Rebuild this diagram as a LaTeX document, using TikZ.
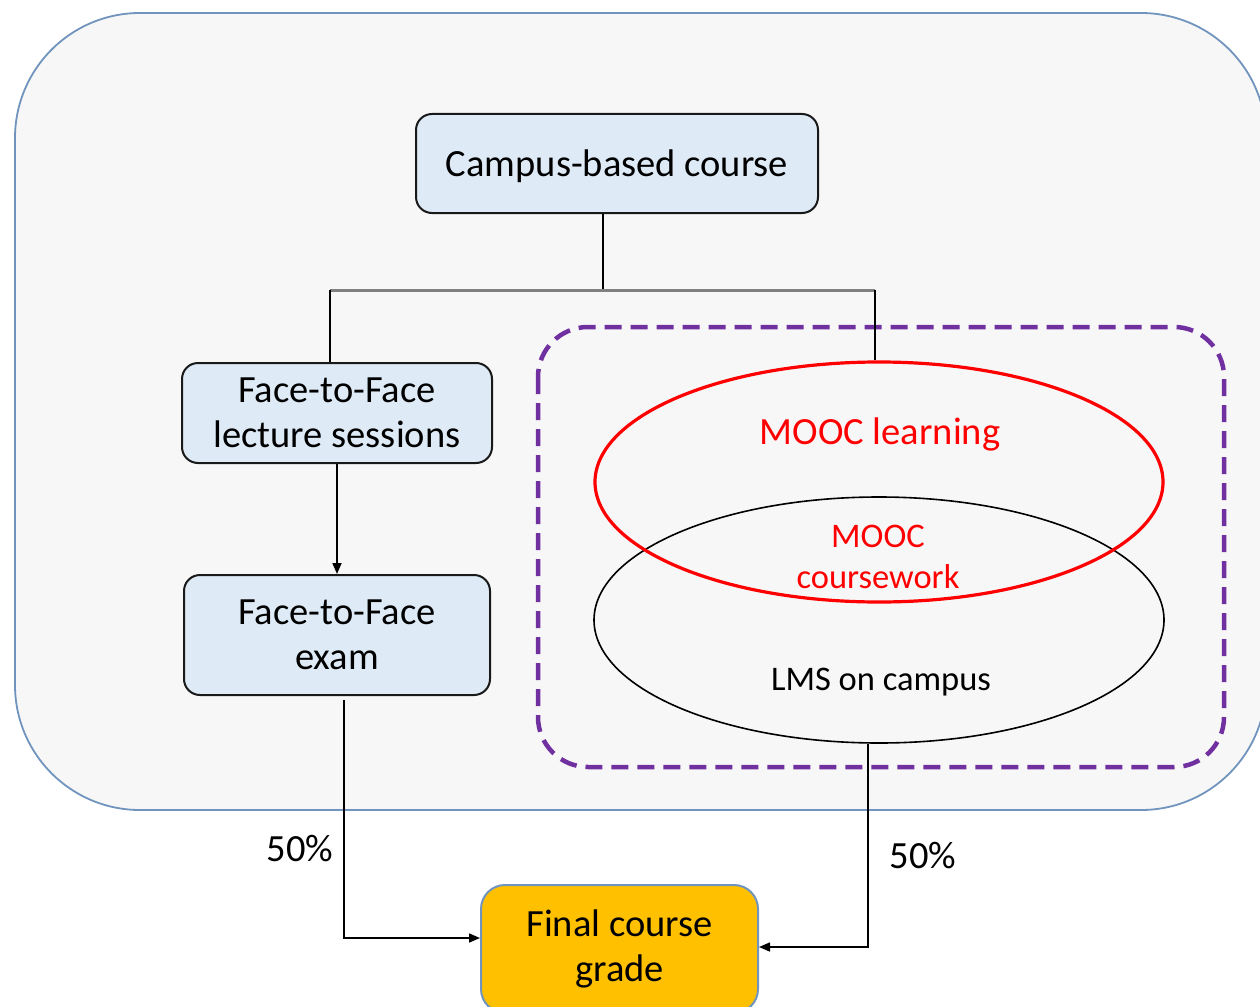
\documentclass[tikz,border=0pt]{standalone}
\usepackage{fontspec}
\setmainfont{Carlito}
\usetikzlibrary{arrows.meta,shapes.geometric}
\definecolor{bgfill}{HTML}{F7F7F7}
\definecolor{bgline}{HTML}{7094BE}
\definecolor{boxfill}{HTML}{DEEBF7}
\definecolor{mpurple}{HTML}{7030A0}
\definecolor{myellow}{HTML}{FFC000}
\definecolor{gline}{HTML}{808080}
\tikzset{
  x=1pt,y=-1pt,
  bigfont/.style={font=\fontsize{38.5}{45}\selectfont},
  smallfont/.style={font=\fontsize{34.5}{41}\selectfont},
  bluebox/.style={draw=black!90,line width=2pt,fill=boxfill,rounded corners=16pt,align=center,inner sep=0pt,bigfont},
  conn/.style={draw=black,line width=1.6pt},
  arr/.style={conn,-{Triangle[length=11pt,width=9pt]}},
}
\begin{document}
\begin{tikzpicture}
\useasboundingbox (0,0) rectangle (1260,1006);
% background panel
\draw[bgline,fill=bgfill,line width=1.8pt,rounded corners=125pt] (15,13) rectangle (1266,810);
% purple dashed region
\draw[mpurple,line width=4.5pt,dash pattern=on 17pt off 9pt,rounded corners=50pt] (538,327) rectangle (1224,767);
% nodes
\node[bluebox,minimum width=402pt,minimum height=99pt,text depth=-3pt] (campus) at (617,163.5) {Campus-based course};
\node[bluebox,minimum width=310pt,minimum height=100pt] (lect) at (337,413) {Face-to-Face\\lecture sessions};
\node[bluebox,minimum width=306pt,minimum height=120pt] (exam) at (337,635) {Face-to-Face\\exam};
\node[draw=bgline,line width=2pt,fill=myellow,rounded corners=24pt,align=center,inner sep=0pt,bigfont,minimum width=277pt,minimum height=128pt] (grade) at (619.5,949) {Final course\\grade};
\node[ellipse,draw=black,line width=1.6pt,inner sep=0pt,minimum width=570pt,minimum height=246pt] (lms) at (879,620) {};
\node[ellipse,draw=red,line width=3.2pt,inner sep=0pt,minimum width=568pt,minimum height=240pt] (mooc) at (879,482) {};
% texts
\node[bigfont,text=red] (tmooc) at (880,434) {MOOC learning};
\node[smallfont,text=red,align=center] (tcw) at (878,557) {MOOC\\coursework};
\node[smallfont] (tlms) at (881,682) {LMS on campus};
\node[bigfont] (p1) at (300,849) {50\%};
\node[bigfont] (p2) at (923,856) {50\%};
% connectors
\coordinate (j) at (603,290);
\coordinate (jl) at (330,290);
\coordinate (jr) at (875,290);
\draw[conn] (campus.south -| j) -- (j);
\draw[gline,line width=3pt] (jl) -- (jr);
\draw[conn] (jl) -- (jl |- lect.north);
\draw[conn] (jr) -- (jr |- mooc.north);
\draw[arr] (lect.south) -- (exam.north);
\coordinate (e1) at (344,938);
\draw[arr] (344,700) -- (e1) -- (e1 -| grade.west);
\coordinate (l1) at (868,947);
\draw[arr] (lms.south -| l1) -- (l1) -- (l1 -| grade.east);
\end{tikzpicture}
\end{document}
